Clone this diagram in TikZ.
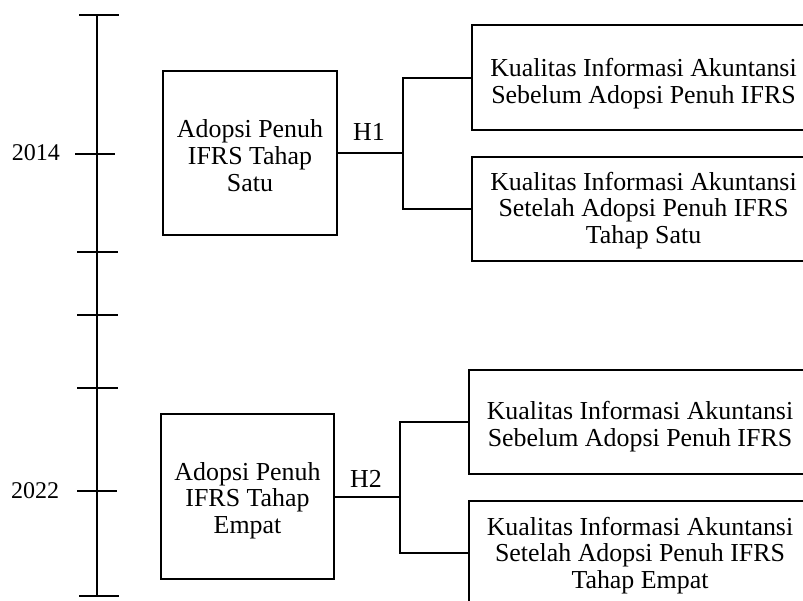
\documentclass[tikz,border=0pt]{standalone}
\usepackage{fontspec}
\setmainfont{Liberation Serif}
\newcommand\myTopStrut[1]{\vrule width 0pt height #1 depth 0pt\relax}
\begin{document}
\begin{tikzpicture}[x=1pt,y=-1pt,
  txt/.style={font=\fontsize{25.9}{26.7}\selectfont, text=black},
  yeartxt/.style={font=\fontsize{24}{27}\selectfont, text=black},
  box/.style={txt, draw, line width=2pt, align=center, inner sep=0pt},
  conn/.style={line width=2pt},
  axis/.style={line width=2pt},
  thintick/.style={line width=1.2pt}]
\useasboundingbox (0,0) rectangle (803,600);
\clip (0,0) rectangle (803,600);
% timeline
\coordinate (tltop) at (97,15);
\coordinate (tlbot) at (97,596);
\draw[axis] (tltop) -- (tlbot);
\draw[axis] (79,15) -- (119,15);
\draw[axis] (79,596) -- (119,596);
\draw[axis] (75,154) -- (115,154);
\draw[axis] (77,491) -- (117,491);
\draw[thintick] (77,252) -- (118,252);
\draw[thintick] (77,315) -- (118,315);
\draw[thintick] (77,388) -- (118,388);
\node[yeartxt, anchor=base] (y1) at (36,160.5) {2014};
\node[yeartxt, anchor=base] (y2) at (35,498) {2022};
% top group
\node[box, minimum width=174, minimum height=164] (b1) at (250,152.5) {\myTopStrut{24pt}Adopsi Penuh\\IFRS Tahap\\Satu};
\node[box, minimum width=343, minimum height=105] (k1) at (643.5,77.5) {\myTopStrut{30pt}Kualitas Informasi Akuntansi\\Sebelum Adopsi Penuh IFRS};
\node[box, minimum width=343, minimum height=104] (k2) at (643.5,209) {\myTopStrut{21pt}Kualitas Informasi Akuntansi\\Setelah Adopsi Penuh IFRS\\Tahap Satu};
\coordinate (jx1) at (403,0);
\coordinate (j1) at (b1.east -| jx1);
\draw[conn] (b1.east) -- (j1);
\draw[conn] (k1.west) -| (j1) |- (k2.west);
\node[txt, anchor=base] (h1) at (369,140.5) {H1};
% bottom group
\node[box, minimum width=173, minimum height=165] (b2) at (247.5,496.5) {\myTopStrut{26pt}Adopsi Penuh\\IFRS Tahap\\Empat};
\node[box, minimum width=342, minimum height=104] (k3) at (640,422) {\myTopStrut{27pt}Kualitas Informasi Akuntansi\\Sebelum Adopsi Penuh IFRS};
\node[box, minimum width=342, minimum height=104] (k4) at (640,553) {\myTopStrut{23pt}Kualitas Informasi Akuntansi\\Setelah Adopsi Penuh IFRS\\Tahap Empat};
\coordinate (jx2) at (400,0);
\coordinate (j2) at (b2.east -| jx2);
\draw[conn] (b2.east) -- (j2);
\draw[conn] (k3.west) -| (j2) |- (k4.west);
\node[txt, anchor=base] (h2) at (366,487) {H2};
\end{tikzpicture}
\end{document}
